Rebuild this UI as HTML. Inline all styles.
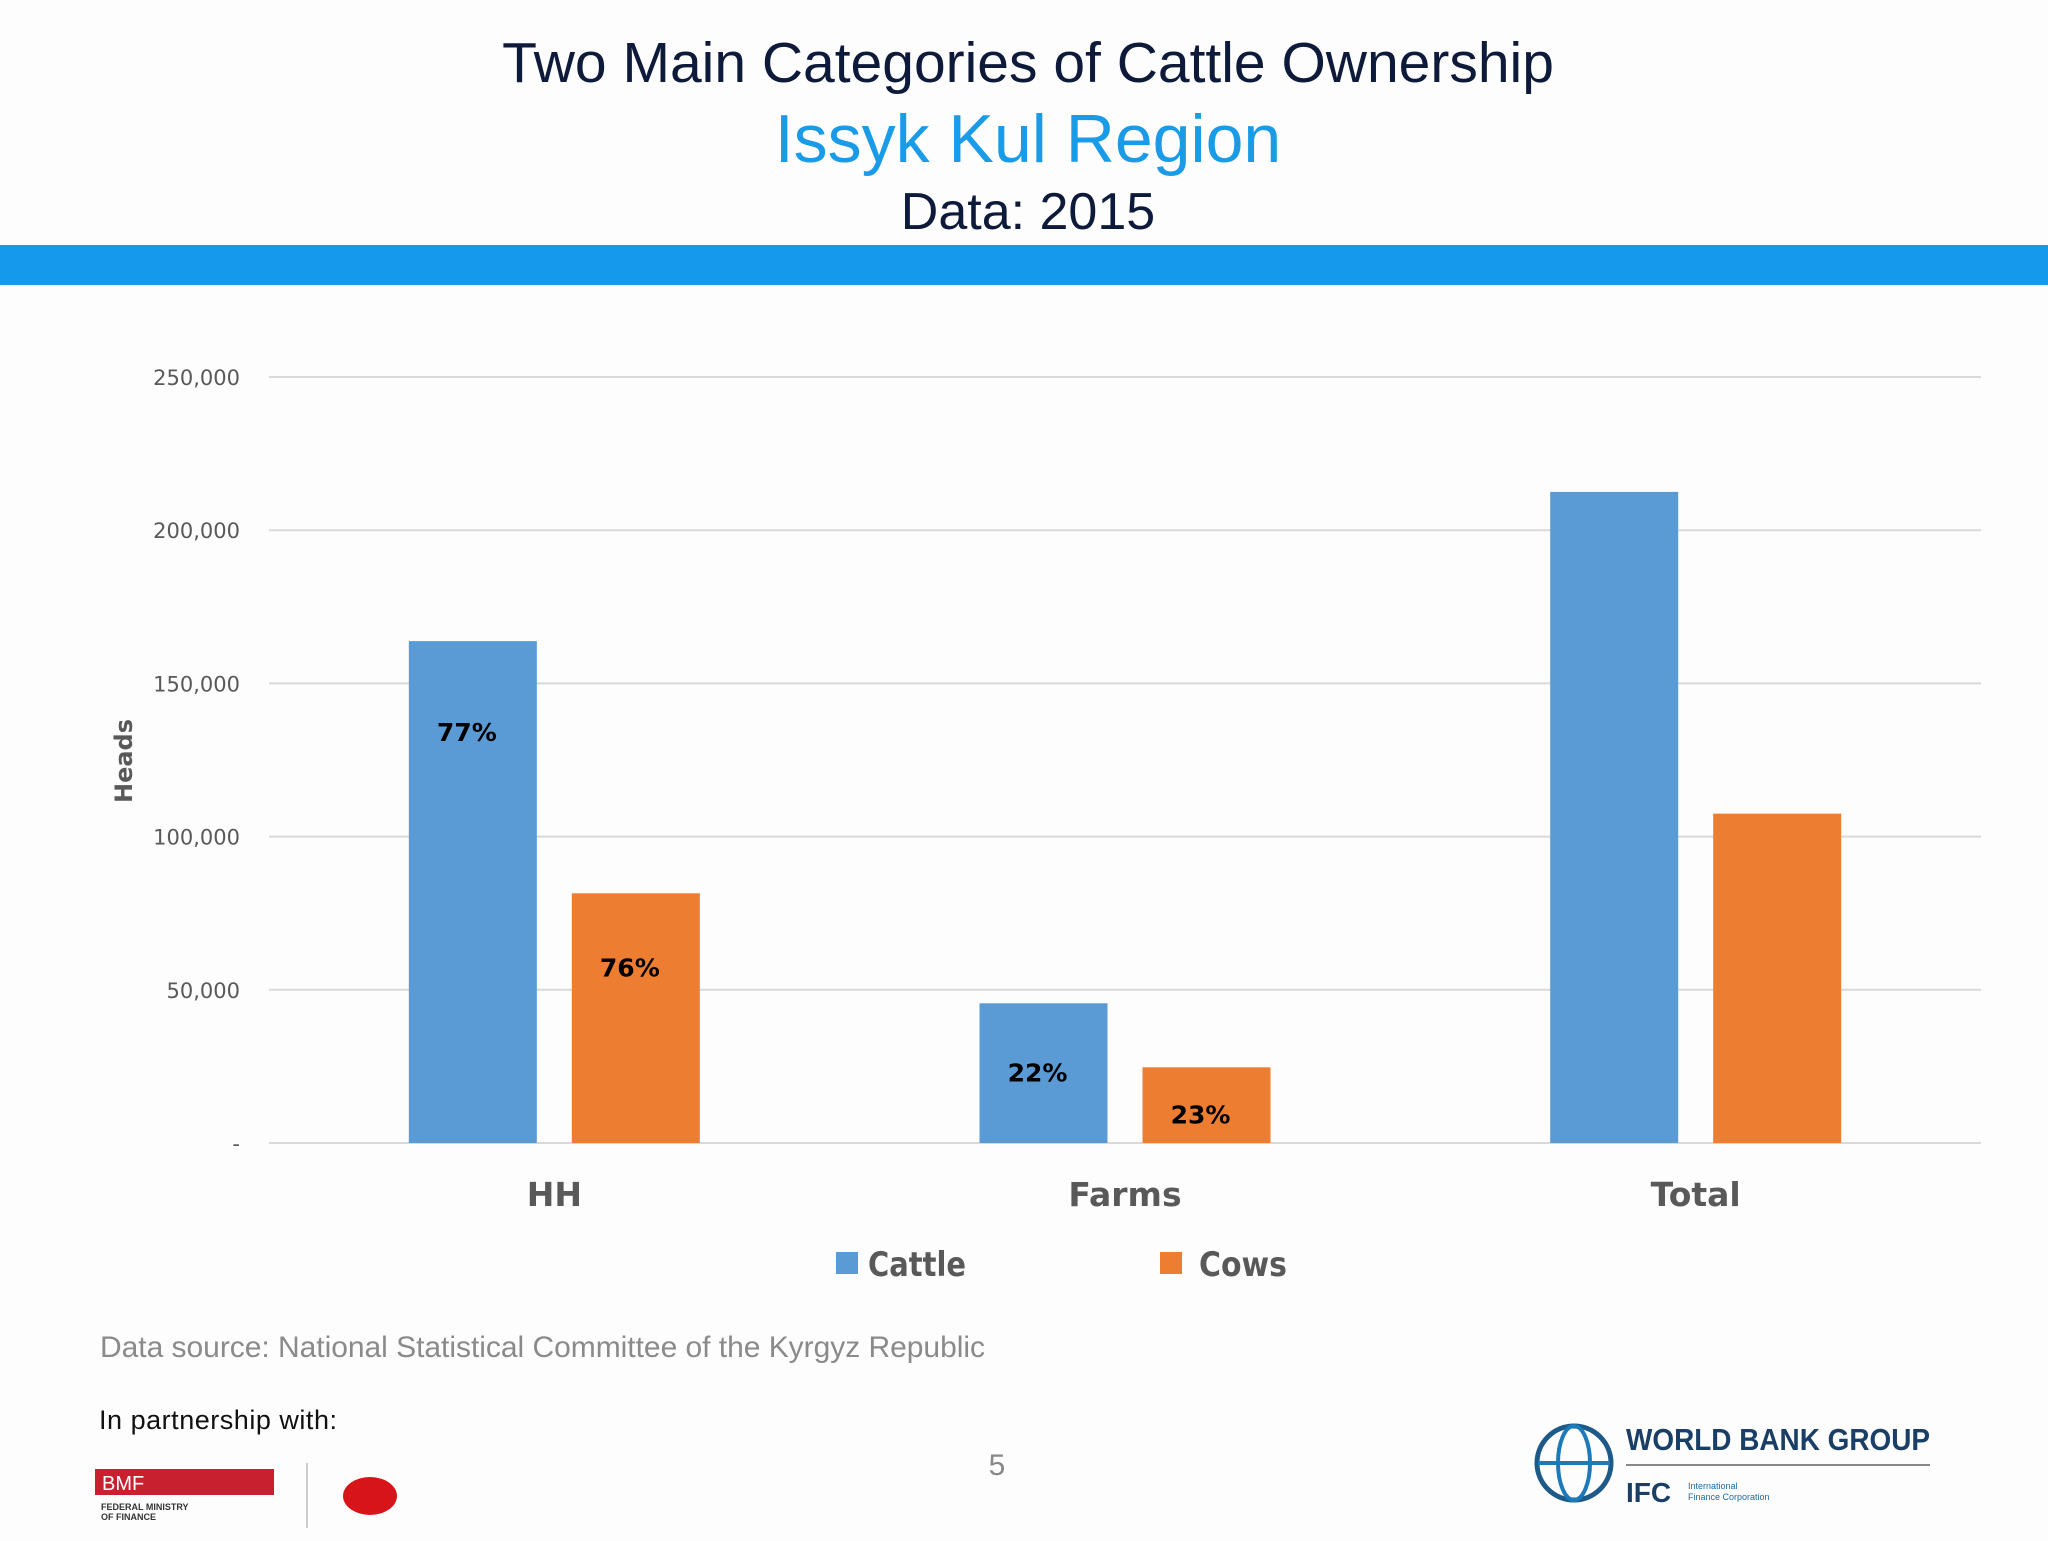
<!DOCTYPE html>
<html><head><meta charset="utf-8"><style>
body{margin:0;width:2048px;height:1536px;background:#fdfdfd;overflow:hidden;font-family:"Liberation Sans",sans-serif}
</style></head><body>
<svg width="2048" height="1536" xmlns="http://www.w3.org/2000/svg" id="svg">
<text x="1028" y="82" text-anchor="middle" font-family="Liberation Sans" font-size="57" fill="#0d1a3a">Two Main Categories of Cattle Ownership</text>
<text x="1028" y="162" text-anchor="middle" font-family="Liberation Sans" font-size="68" fill="#1a9be8">Issyk Kul Region</text>
<text x="1028" y="229" text-anchor="middle" font-family="Liberation Sans" font-size="52" fill="#0d1a3a">Data: 2015</text>
<rect x="0" y="245" width="2048" height="40" fill="#1499ec"/>
<g id="plot"></g>
<text transform="translate(132,761) rotate(-90)" text-anchor="middle" font-family="DejaVu Sans" font-weight="bold" font-size="24" fill="#595959">Heads</text>
<g>
<rect x="836" y="1252" width="22" height="22" fill="#5b9bd5"/>
<text x="868" y="1276" font-family="DejaVu Sans" font-weight="bold" font-size="34" textLength="98" lengthAdjust="spacingAndGlyphs" fill="#595959">Cattle</text>
<rect x="1160" y="1252" width="22" height="22" fill="#ed7d31"/>
<text x="1199" y="1276" font-family="DejaVu Sans" font-weight="bold" font-size="34" textLength="88" lengthAdjust="spacingAndGlyphs" fill="#595959">Cows</text>
</g>
<text x="100" y="1357" font-family="Liberation Sans" font-size="30" textLength="885" fill="#8a8a8a">Data source: National Statistical Committee of the Kyrgyz Republic</text>
<text x="99" y="1429" font-family="Liberation Sans" font-size="27" textLength="238" fill="#111">In partnership with:</text>
<text x="997" y="1475" text-anchor="middle" font-family="Liberation Sans" font-size="30" fill="#888">5</text>
<g>
<rect x="95" y="1469" width="179" height="26" fill="#c8202f"/>
<text x="102" y="1490" font-family="Liberation Sans" font-size="20" fill="#fff">BMF</text>
<text x="101" y="1510" font-family="Liberation Sans" font-size="9" font-weight="bold" fill="#333">FEDERAL MINISTRY</text>
<text x="101" y="1520" font-family="Liberation Sans" font-size="9" font-weight="bold" fill="#333">OF FINANCE</text>
<line x1="307" y1="1463" x2="307" y2="1528" stroke="#ccc" stroke-width="2"/>
<ellipse cx="370" cy="1496" rx="27" ry="19" fill="#d7141a"/>
</g>
<g>
<circle cx="1574" cy="1463" r="37" fill="none" stroke="#1d5a8a" stroke-width="5"/>
<ellipse cx="1574" cy="1463" rx="16" ry="37" fill="none" stroke="#1d7ab8" stroke-width="4"/>
<line x1="1538" y1="1463" x2="1610" y2="1463" stroke="#1d7ab8" stroke-width="4"/>
<text x="1626" y="1450" font-family="Liberation Sans" font-weight="bold" font-size="31" textLength="304" lengthAdjust="spacingAndGlyphs" fill="#1a3f66">WORLD BANK GROUP</text>
<line x1="1626" y1="1465" x2="1930" y2="1465" stroke="#888" stroke-width="2"/>
<text x="1626" y="1502" font-family="Liberation Sans" font-weight="bold" font-size="28" fill="#1a3f66">IFC</text>
<text x="1688" y="1489" font-family="Liberation Sans" font-size="9" fill="#1a6aa8">International</text>
<text x="1688" y="1500" font-family="Liberation Sans" font-size="9" fill="#1a6aa8">Finance Corporation</text>
</g>
</svg>
<script>
const categories=["HH","Farms","Total"];
const cattle=[163800,45600,212500];
const cows=[81500,24700,107500];
const cattleLabels=["77%","22%",""];
const cowsLabels=["76%","23%",""];
const yTicks=[0,50000,100000,150000,200000,250000];
const yTickLabels=["-","50,000","100,000","150,000","200,000","250,000"];

const NS="http://www.w3.org/2000/svg";
const g=document.getElementById('plot');
const X0=269,X1=1981,Y0=1143,YT=377,YMAX=250000;
const y=v=>Y0-(v/YMAX)*(Y0-YT);
const groupW=(X1-X0)/categories.length;
const xc=i=>X0+groupW*(i+0.5);
const BW=128,GAP=35;
function mk(tag,attrs,txt){const e=document.createElementNS(NS,tag);for(const k in attrs)e.setAttribute(k,attrs[k]);if(txt!==undefined)e.textContent=txt;g.appendChild(e);return e;}
yTicks.forEach((t,i)=>{
  const l=mk('line',{x1:X0,x2:X1,y1:y(t),y2:y(t),stroke:'#d9d9d9','stroke-width':2});
  
  
  const tx=mk('text',{x:240,y:y(t)+8,'text-anchor':'end','font-family':'DejaVu Sans','font-size':21,fill:'#595959'},yTickLabels[i]);
  
  
});
categories.forEach((c,i)=>{
  const cx=xc(i);
  const b1=mk('rect',{x:cx-GAP/2-BW,y:y(cattle[i]),width:BW,height:Y0-y(cattle[i]),fill:'#5b9bd5'});
  
  
  const b2=mk('rect',{x:cx+GAP/2,y:y(cows[i]),width:BW,height:Y0-y(cows[i]),fill:'#ed7d31'});
  
  
  if(cattleLabels[i]){
    const t=mk('text',{x:cx-GAP/2-BW/2-6,y:y(cattle[i])+(i==0?100:78),'text-anchor':'middle','font-family':'DejaVu Sans','font-weight':'bold','font-size':25,fill:'#000'},cattleLabels[i]);
    
    
  }
  if(cowsLabels[i]){
    const t=mk('text',{x:cx+GAP/2+BW/2-6,y:y(cows[i])+(i==0?83:56),'text-anchor':'middle','font-family':'DejaVu Sans','font-weight':'bold','font-size':25,fill:'#000'},cowsLabels[i]);
    
    
  }
  const ct=mk('text',{x:cx,y:1206,'text-anchor':'middle','font-family':'DejaVu Sans','font-weight':'bold','font-size':33,fill:'#595959'},c);
  
  
});
</script>
</body></html>
